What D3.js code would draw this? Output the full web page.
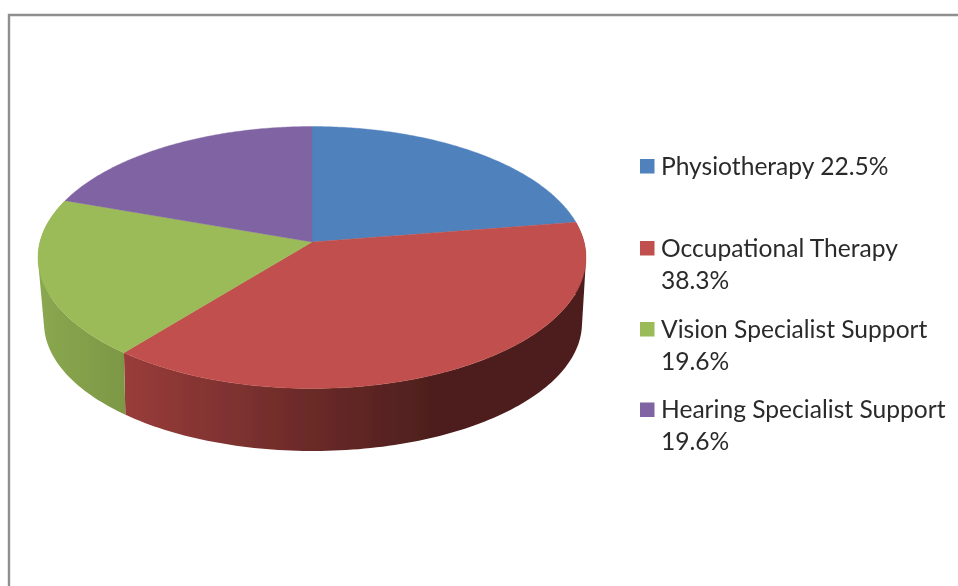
<!DOCTYPE html>
<html>
<head>
<meta charset="utf-8">
<script src="https://cdn.jsdelivr.net/npm/d3@7/dist/d3.min.js"></script>
<style>
html,body{margin:0;padding:0;background:#fff;overflow:hidden}
svg{display:block}
text{font-family:Lato,Carlito,Calibri,sans-serif;fill:#2b2b2b}
</style>
</head>
<body>
<svg id="chart" width="958" height="586"></svg>
<script>
const categories = ["Physiotherapy", "Occupational Therapy", "Vision Specialist Support", "Hearing Specialist Support"];
const values = [22.5, 38.3, 19.6, 19.6];
const colors = ["#4f81bd", "#c0504d", "#9bbb59", "#8064a2"];
const legendLines = [
  ["Physiotherapy 22.5%"],
  ["Occupational Therapy", "38.3%"],
  ["Vision Specialist Support", "19.6%"],
  ["Hearing Specialist Support", "19.6%"]
];
// side-wall shading: colour stops by horizontal position
const sideStopsX = [38, 124, 312, 430, 586];
const sideRed = ["#a8443f", "#993c3a", "#6a2a28", "#4e1f1e", "#4e1f1e"];
const sideGreen = ["#8aa850", "#7d9845", "#7d9845", "#7d9845", "#7d9845"];

const svg = d3.select("#chart");
const defs = svg.append("defs");
defs.append("filter").attr("id", "soft").attr("x", "-5%").attr("y", "-5%").attr("width", "110%").attr("height", "110%")
  .append("feGaussianBlur").attr("stdDeviation", 0.45);

function sideGradient(id, stops) {
  const grad = defs.append("linearGradient").attr("id", id)
    .attr("gradientUnits", "userSpaceOnUse")
    .attr("x1", sideStopsX[0]).attr("x2", sideStopsX[sideStopsX.length - 1])
    .attr("y1", 0).attr("y2", 0);
  const offset = d3.scaleLinear().domain(d3.extent(sideStopsX)).range([0, 1]);
  stops.forEach((c, i) => grad.append("stop").attr("offset", offset(sideStopsX[i])).attr("stop-color", c));
}
sideGradient("sideRed", sideRed);
sideGradient("sideGreen", sideGreen);

// frame
svg.append("path").attr("d", d3.line()([[9, 586], [9, 15], [958, 15]]))
  .attr("fill", "none").attr("stroke", "#8f8f8f").attr("stroke-width", 2.4);

// pie layout
const pie = d3.pie().sort(null).value(d => d)(values);

// perspective disc: maps the unit circle onto an ellipse, moving its centre by k
function disc(cx, cy, rx, ry, k) {
  const sx = d3.scaleLinear().domain([-1, 1]).range([cx - rx, cx + rx]);
  const sy = d3.scaleLinear().domain([-1, 1]).range([cy - ry, cy + ry]);
  const f = Math.sqrt(1 - k * k);
  return a => {
    const u = Math.sin(a), v = -Math.cos(a), w = 1 + k * v;
    return [sx(u * f / w), sy((v + k) / w)];
  };
}

const topRim = disc(312, 257.5, 274, 131, -0.118);
const bottomRim = disc(313, 323, 269, 128, -0.14);
const centre = [312, 257.5 + 131 * -0.118];

const sideFill = [null, "url(#sideRed)", "url(#sideGreen)", null];
const g = svg.append("g").attr("filter", "url(#soft)");

// side walls: convex strips between the two rims, merged into one path so no seams show
pie.forEach((p, i) => {
  if (!sideFill[i]) return;
  const steps = d3.range(p.startAngle, p.endAngle, 0.02).concat([p.endAngle]);
  const d = d3.pairs(steps).map(([a0, a1]) =>
    d3.line()(d3.polygonHull([topRim(a0), topRim(a1), bottomRim(a1), bottomRim(a0)])) + "Z").join("");
  g.append("path").attr("d", d).attr("fill", sideFill[i]).attr("fill-rule", "nonzero");
});

// top faces
pie.forEach((p, i) => {
  const steps = d3.range(p.startAngle, p.endAngle, 0.01).concat([p.endAngle]);
  g.append("path")
    .attr("d", d3.line()([centre, ...steps.map(topRim)]) + "Z")
    .attr("fill", colors[i]).attr("stroke", colors[i]).attr("stroke-width", 0.4);
});

// legend
const legendBase = [173.5, 255.5, 336.5, 417];
const legend = svg.append("g").attr("filter", "url(#soft)");
categories.forEach((c, i) => {
  legend.append("rect").attr("x", 640).attr("y", legendBase[i] - 14.5)
    .attr("width", 14.5).attr("height", 14.5).attr("fill", colors[i]);
  legendLines[i].forEach((line, j) => {
    legend.append("text").attr("x", 661).attr("y", legendBase[i] + 1 + j * 32)
      .attr("font-size", 24.6).text(line);
  });
});
</script>
</body>
</html>
